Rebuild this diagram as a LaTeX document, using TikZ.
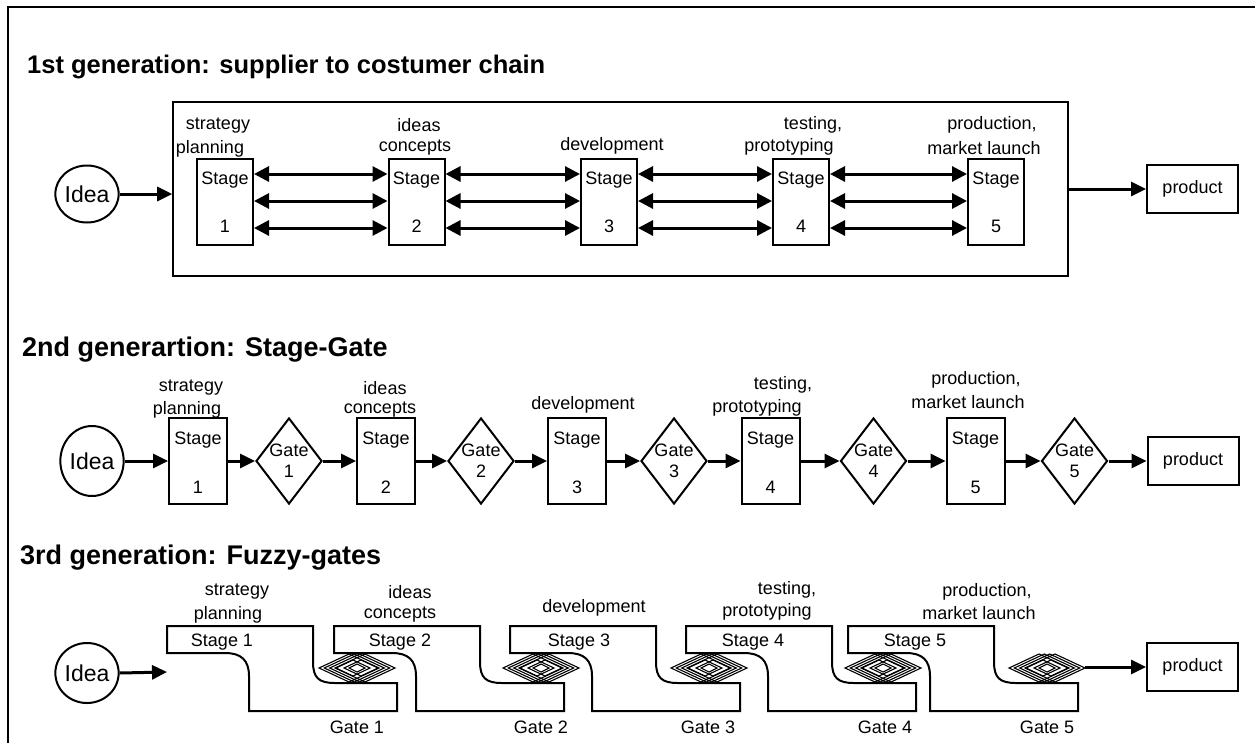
\documentclass[tikz,border=0pt]{standalone}
\usepackage{fontspec}
\setmainfont{Liberation Sans}
\usetikzlibrary{arrows.meta,shapes.geometric,calc}
\newcommand\fzstage[1]{%
  \draw[shapeline, shift={(#1,0)}] (0,626) -- (146,626) -- (146,662)
    .. controls (146,678) and (152,683) .. (168,683) -- (230,683) -- (230,711)
    -- (82,711) -- (82,676) .. controls (82,660) and (74,653) .. (58,653)
    -- (0,653) -- cycle;}
\newcommand\fzlattice[1]{%
  \begin{scope}[shift={(#1,668)}, line width=1.1pt]
    \foreach \k in {-8,-2.7,2.7,8}{
      \draw (\k-30,0) -- (\k,-14) -- (\k+30,0) -- (\k,14) -- cycle;
    }
    \foreach \k in {-4,4}{
      \draw (\k-17,0) -- (\k,-8) -- (\k+17,0) -- (\k,8) -- cycle;
    }
    \draw (-8,0) -- (0,-4) -- (8,0) -- (0,4) -- cycle;
  \end{scope}}
\begin{document}
\begin{tikzpicture}[x=1pt,y=-1pt,
  txt/.style={font=\fontsize{18}{21}\selectfont, inner sep=0pt},
  ttl/.style={font=\fontsize{25.5}{30}\selectfont\bfseries, inner sep=0pt, anchor=base west},
  shapeline/.style={line width=2pt},
  stagebox/.style={draw, shapeline, minimum width=56pt, minimum height=86pt, inner sep=0pt},
  gatebox/.style={diamond, draw, shapeline, minimum width=66pt, minimum height=86pt, inner sep=0pt},
  idea/.style={ellipse, draw, shapeline, inner sep=0pt, minimum width=63pt, font=\fontsize{23}{27}\selectfont},
  prodbox/.style={draw, shapeline, minimum width=91pt, minimum height=48pt, inner sep=0pt, font=\fontsize{18}{21}\selectfont},
  arr/.style={line width=3pt, -{Triangle[length=15pt,width=14pt]}},
  darr/.style={line width=3pt, {Triangle[length=15pt,width=15pt]}-{Triangle[length=15pt,width=15pt]}},
]
\useasboundingbox (0,0) rectangle (1255,742);
\clip (0,0) rectangle (1255,742);
\draw[line width=2pt] (8,750) -- (8,7) -- (1262,7);

% ---------- 1st generation ----------
\node[ttl] (t1) at (27,73) {1st generation: supplier to costumer chain};
\node[draw, line width=1.6pt, minimum width=895pt, minimum height=174pt] (f1) at (620.5,189) {};
\node[idea, minimum height=57pt] (i1) at (87,194) {Idea};
\node[prodbox] (p1) at (1192.5,189) {product};
\foreach \n/\x in {1/225,2/416.5,3/609,4/801,5/996}{
  \node[stagebox] (a\n) at (\x,202) {};
  \node[txt] (a\n s) at ($(a\n.center)+(0,-22)$) {Stage};
  \node[txt] (a\n n) at ($(a\n.center)+(0,24)$) {\n};
}
\foreach \i/\j in {1/2,2/3,3/4,4/5}{
  \foreach \d in {-28,-1,26}{
    \draw[darr] ($(a\i.east)+(0,\d)$) -- ($(a\j.west)+(0,\d)$);
  }
}
\draw[arr] (i1.east) -- (i1.east -| f1.west);
\draw[arr] (f1.east) -- (p1.west);
\node[txt] (l1a) at (218,126) {strategy};
\node[txt] (l1b) at (210,149) {planning};
\node[txt] (l1c) at (419,125) {ideas};
\node[txt] (l1d) at (415,148) {concepts};
\node[txt] (l1e) at (612,146) {development};
\node[txt] (l1f) at (813,125) {testing,};
\node[txt] (l1g) at (789,147) {prototyping};
\node[txt] (l1h) at (992,125) {production,};
\node[txt] (l1i) at (984,148) {market launch};

% ---------- 2nd generation ----------
\node[ttl, font=\fontsize{27}{32}\selectfont\bfseries] (t2) at (22,356) {2nd generartion: Stage-Gate};
\node[idea, minimum height=70pt] (i2) at (92,461) {Idea};
\node[prodbox] (p2) at (1193,461) {product};
\foreach \n/\x/\g in {1/198/289,2/386/481,3/577/674,4/770.5/873.5,5/975.5/1074.5}{
  \node[stagebox, minimum width=58pt] (b\n) at (\x,461) {};
  \node[txt] (b\n s) at ($(b\n.center)+(0,-21)$) {Stage};
  \node[txt] (b\n n) at ($(b\n.center)+(0,26)$) {\n};
  \node[gatebox] (g\n) at (\g,461) {};
  \node[txt, align=center] (g\n t) at (g\n.center) {Gate\\\n};
  \draw[arr] (b\n.east) -- (g\n.west);
}
\draw[arr] (i2.east) -- (b1.west);
\foreach \i/\j in {1/2,2/3,3/4,4/5}{
  \draw[arr] (g\i.east) -- (b\j.west);
}
\draw[arr] (g5.east) -- (p2.west);
\node[txt] (l2a) at (191,388) {strategy};
\node[txt] (l2b) at (187,410) {planning};
\node[txt] (l2c) at (385,388) {ideas};
\node[txt] (l2d) at (380,410) {concepts};
\node[txt] (l2e) at (583,405) {development};
\node[txt] (l2f) at (783,385) {testing,};
\node[txt] (l2g) at (757,408) {prototyping};
\node[txt] (l2h) at (976,380) {production,};
\node[txt] (l2i) at (968,402) {market launch};

% ---------- 3rd generation ----------
\node[ttl, font=\fontsize{27}{32}\selectfont\bfseries] (t3) at (20,564) {3rd generation: Fuzzy-gates};
\node[idea, minimum height=60pt] (i3) at (87,673) {Idea};
\node[prodbox] (p3) at (1192.5,667) {product};
\coordinate (e3) at (167,672);
\draw[arr] (i3.east) -- (e3);
\foreach \x in {167,334,510,686,848}{ \fzstage{\x} }
\foreach \x in {357,541,709,883,1047}{ \fzlattice{\x} }
\coordinate (z5) at (1085,667);
\draw[arr] (z5) -- (p3.west);
\foreach \n/\x in {1/222,2/400,3/579,4/753,5/915}{
  \node[txt] (c\n s) at (\x,642) {Stage \n};
}
\foreach \n/\x in {1/357,2/541,3/708,4/885,5/1047}{
  \node[txt] (c\n g) at (\x,727) {Gate \n};
}
\node[txt] (l3a) at (237,592) {strategy};
\node[txt] (l3b) at (228,615) {planning};
\node[txt] (l3c) at (410,592) {ideas};
\node[txt] (l3d) at (400,615) {concepts};
\node[txt] (l3e) at (594,608) {development};
\node[txt] (l3f) at (787,590) {testing,};
\node[txt] (l3g) at (767,612) {prototyping};
\node[txt] (l3h) at (987,592) {production,};
\node[txt] (l3i) at (979,613) {market launch};
\end{tikzpicture}
\end{document}
